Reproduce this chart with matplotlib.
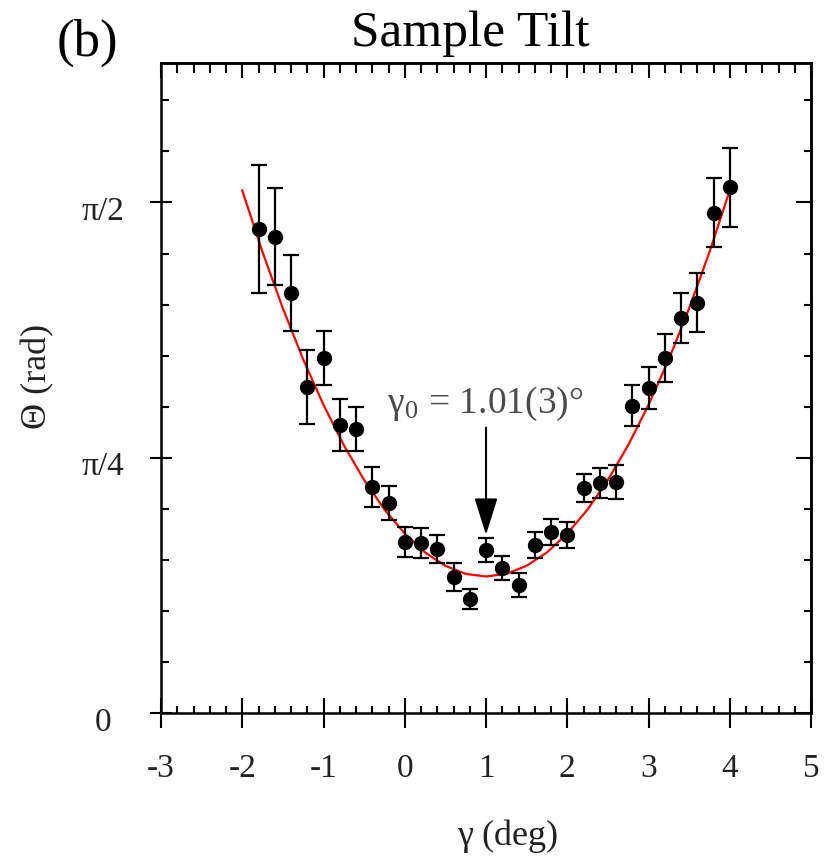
import numpy as np
import matplotlib
matplotlib.use("Agg")
import matplotlib.pyplot as plt
from matplotlib.ticker import MultipleLocator, FixedLocator
import matplotlib.transforms as mtransforms

plt.rcParams['font.family'] = ['Liberation Serif', 'DejaVu Serif']
plt.rcParams['mathtext.fontset'] = 'stix'

# ---- data ----
gamma = [-1.8, -1.6, -1.4, -1.2, -1.0, -0.8, -0.6, -0.4, -0.2, 0.0,
         0.2, 0.4, 0.6, 0.8, 1.0, 1.2, 1.4, 1.6, 1.8, 2.0,
         2.2, 2.4, 2.6, 2.8, 3.0, 3.2, 3.4, 3.6, 3.8, 4.0]
theta = [1.488, 1.466, 1.291, 1.004, 1.093, 0.887, 0.875, 0.696, 0.647, 0.527,
         0.524, 0.505, 0.419, 0.351, 0.502, 0.447, 0.394, 0.517, 0.557, 0.548,
         0.693, 0.708, 0.711, 0.946, 1.001, 1.093, 1.214, 1.263, 1.540, 1.617]
theta_err = [0.197, 0.148, 0.117, 0.114, 0.083, 0.080, 0.068, 0.062, 0.052, 0.046,
             0.046, 0.043, 0.043, 0.031, 0.037, 0.037, 0.037, 0.040, 0.040, 0.040,
             0.043, 0.046, 0.052, 0.062, 0.065, 0.074, 0.077, 0.092, 0.105, 0.123]

fit_x = [-2.0, -1.75, -1.5, -1.25, -1.0, -0.75, -0.5, -0.25, 0.0, 0.25, 0.5, 0.75, 1.0,
         1.25, 1.5, 1.75, 2.0, 2.25, 2.5, 2.75, 3.0, 3.25, 3.5, 3.75, 4.0]
fit_y = [1.608, 1.418, 1.245, 1.088, 0.948, 0.824, 0.717, 0.626, 0.552, 0.494, 0.453, 0.428, 0.420,
         0.428, 0.453, 0.494, 0.552, 0.626, 0.717, 0.824, 0.948, 1.088, 1.245, 1.418, 1.608]

gamma0 = 1.0
arrow_start = 0.878
arrow_end = 0.548
annot_text = r'γ$_{\mathregular{0}}$ = 1.01(3)°'

xticks = [-3, -2, -1, 0, 1, 2, 3, 4, 5]
yticks = [0, np.pi / 4, np.pi / 2]
ytick_labels = ['0', 'π/4', 'π/2']

W, H = 825, 858
fig = plt.figure(figsize=(W / 100, H / 100), dpi=100)
L, R, T, B = 161, 811, 63, 713
ax = fig.add_axes([L / W, 1 - B / H, (R - L) / W, (B - T) / H])

ax.plot(fit_x, fit_y, color='#ff0000', lw=1.6, zorder=2)
ax.errorbar(gamma, theta, yerr=theta_err, fmt='o', color='black', ms=10,
            elinewidth=1.6, capsize=5.5, capthick=1.6, zorder=3)

ax.annotate('', xy=(gamma0, arrow_end), xytext=(gamma0, arrow_start),
            arrowprops=dict(arrowstyle='-|>,head_width=0.36,head_length=1.15',
                            mutation_scale=20, color='black', lw=1.5,
                            shrinkA=0, shrinkB=0), zorder=4)
ax.text(0.99, 0.95, annot_text, ha='center', va='center', fontsize=27, color='#4a4a4a')

ax.set_xlim(-3, 5)
ax.set_ylim(0, 2.0)

ax.xaxis.set_major_locator(FixedLocator(xticks))
ax.set_xticklabels([str(v) for v in xticks])
ax.xaxis.set_minor_locator(MultipleLocator(0.2))
ax.yaxis.set_major_locator(FixedLocator(yticks))
ax.set_yticklabels(ytick_labels)
ax.yaxis.set_minor_locator(MultipleLocator(np.pi / 20))

for s in ax.spines.values():
    s.set_linewidth(1.8)

ax.tick_params(axis='x', which='major', direction='inout', length=21, width=1.5,
               labelsize=24, pad=19, colors='black', labelcolor='#222222')
ax.tick_params(axis='x', which='minor', direction='in', length=5, width=1.5)
ax.tick_params(axis='y', which='major', direction='inout', length=16, width=1.5,
               labelsize=24, pad=34, labelcolor='#222222')
ax.tick_params(axis='y', which='minor', direction='in', length=6, width=1.5)
ax.tick_params(top=False, right=False, which='both')

for lab in ax.get_yticklabels():
    lab.set_ha('center')
    lab.set_transform(lab.get_transform() +
                      mtransforms.ScaledTranslation(0, -6 / 100, fig.dpi_scale_trans))

secx = ax.secondary_xaxis('top')
secx.xaxis.set_major_locator(FixedLocator(xticks))
secx.xaxis.set_minor_locator(MultipleLocator(0.2))
secx.tick_params(which='major', direction='in', length=11, width=1.5, labeltop=False)
secx.tick_params(which='minor', direction='in', length=7, width=1.5)
secx.spines['top'].set_linewidth(1.8)

secy = ax.secondary_yaxis('right')
secy.yaxis.set_major_locator(FixedLocator(yticks))
secy.yaxis.set_minor_locator(MultipleLocator(np.pi / 20))
secy.tick_params(which='major', direction='in', length=11, width=1.5, labelright=False)
secy.tick_params(which='minor', direction='in', length=5, width=1.5)
secy.spines['right'].set_linewidth(1.8)

ax.set_xlabel('γ (deg)', fontsize=26, color='#222222')
ax.xaxis.set_label_coords((508 - L) / (R - L), (B - 836) / (B - T))
ax.xaxis.label.set_va('center')
ax.set_ylabel('Θ (rad)', fontsize=26, color='#222222')
ax.yaxis.set_label_coords((38 - L) / (R - L), (B - 376) / (B - T))
ax.yaxis.label.set_va('center')

fig.text(470 / W, 1 - 46 / H, 'Sample Tilt', ha='center', va='baseline', fontsize=37)
fig.text(57 / W, 1 - 56 / H, '(b)', ha='left', va='baseline', fontsize=38)

fig.savefig('out.png', dpi=100)
